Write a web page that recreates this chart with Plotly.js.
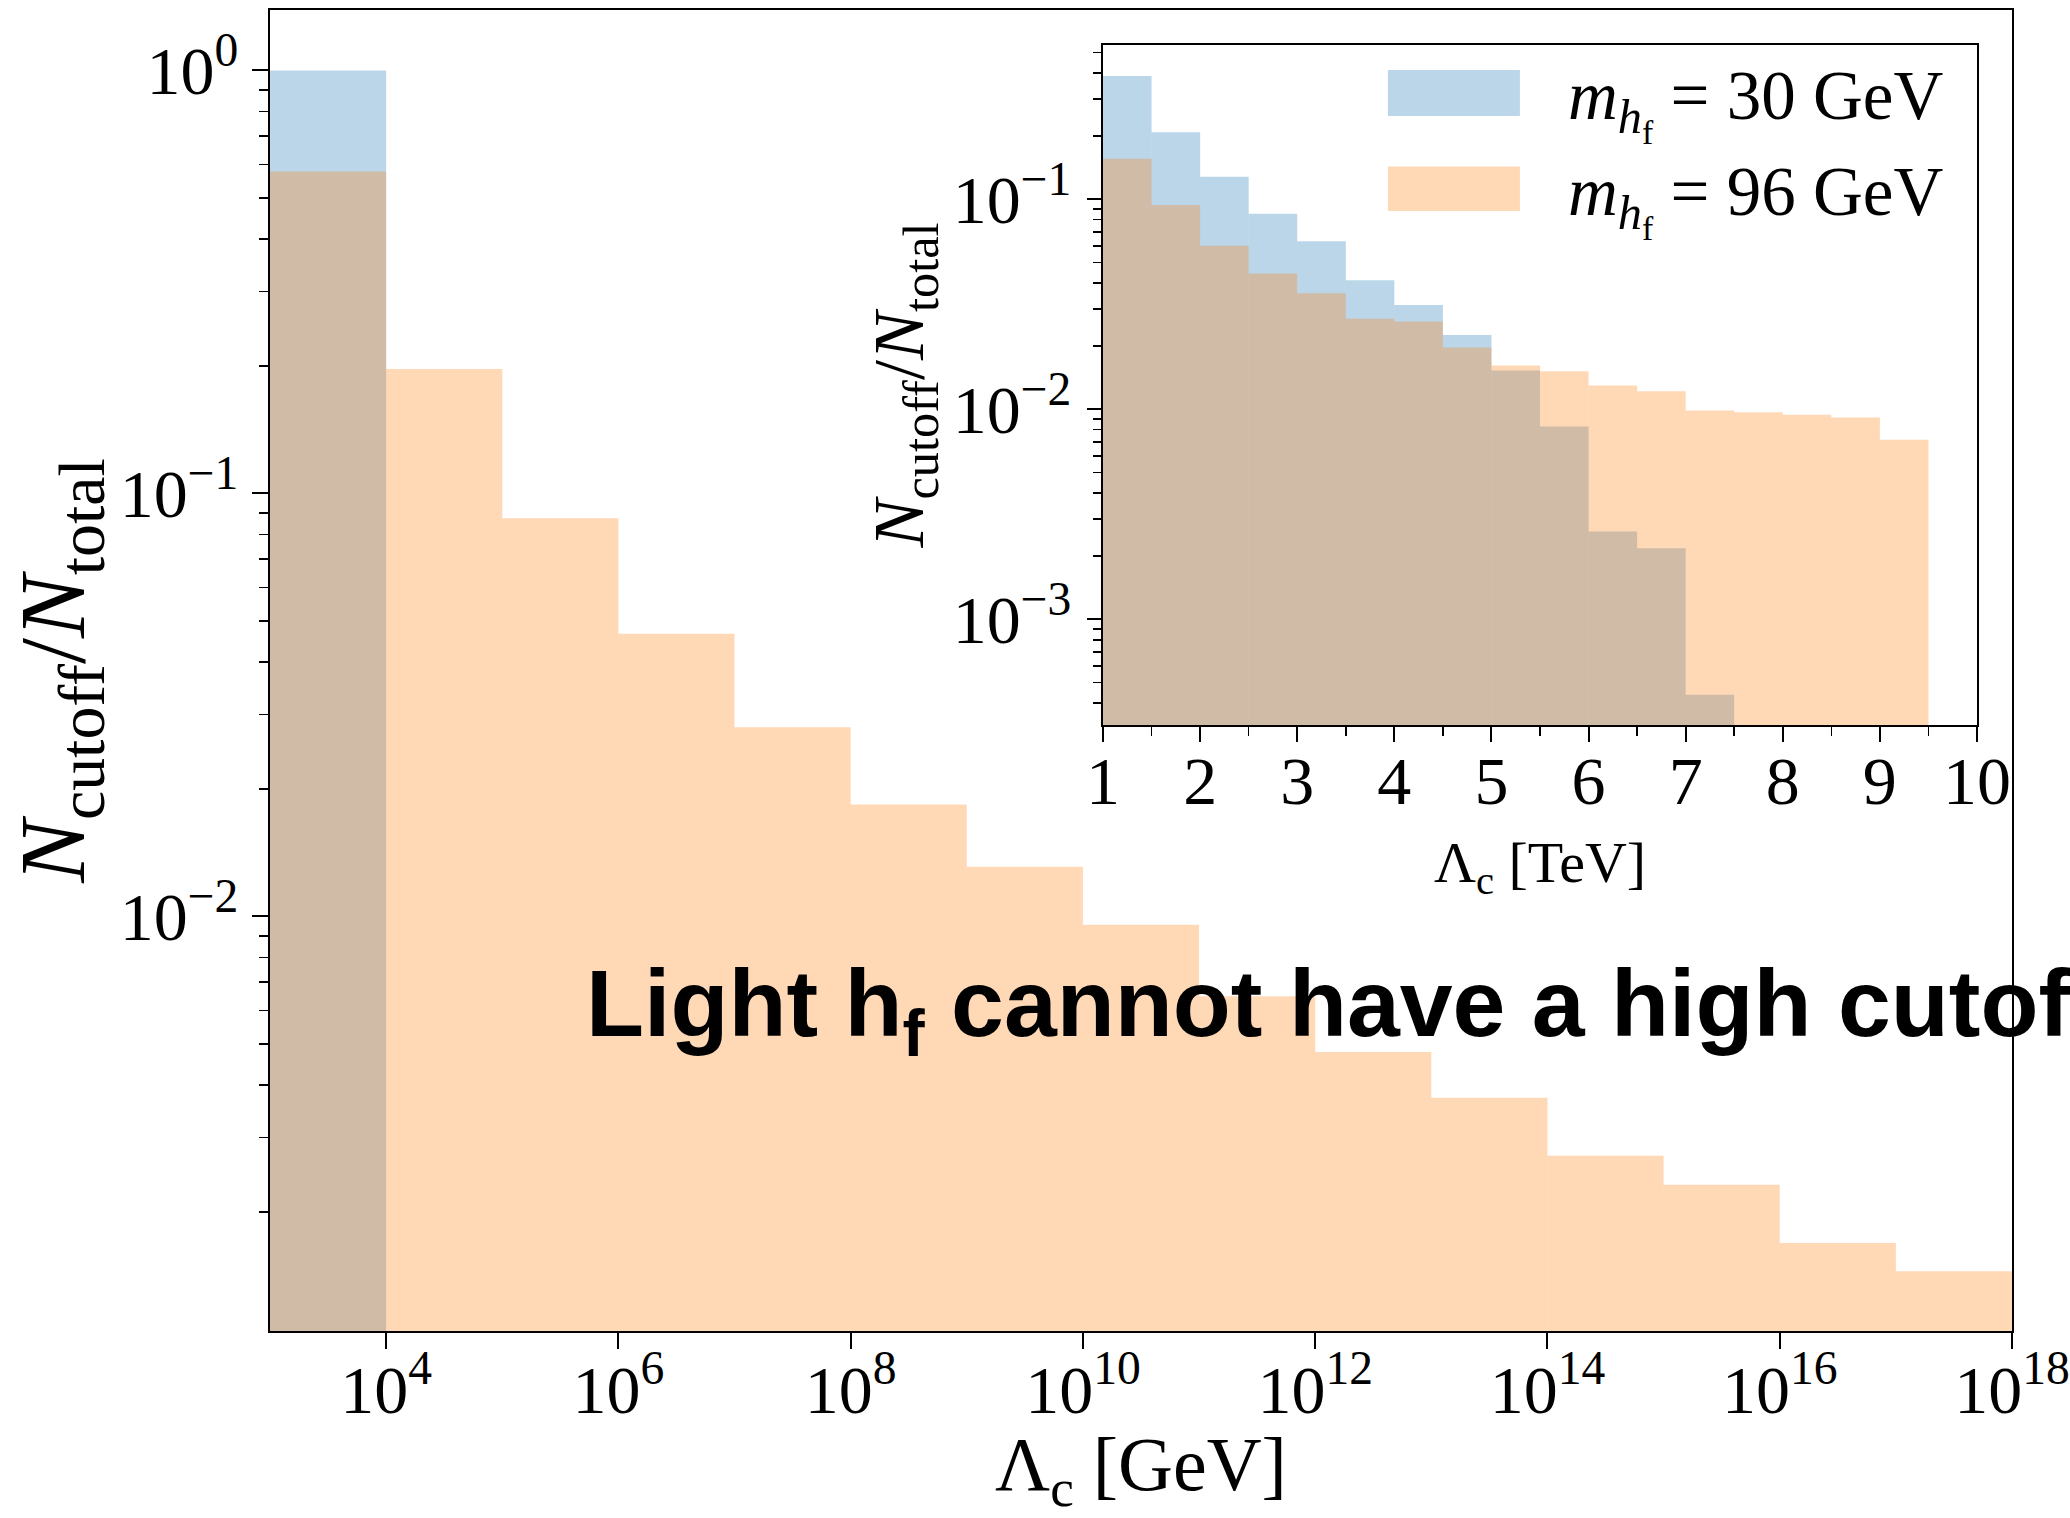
<!DOCTYPE html>
<html>
<head>
<meta charset="utf-8">
<script src="https://cdn.plot.ly/plotly-3.0.1.min.js"></script>
<style>html,body{margin:0;padding:0;background:#fff;}#chart{width:2070px;height:1518px;}</style>
</head>
<body>
<div id="chart"></div>
<script>
// ---- Data ----
// Main panel: one-decade bins of the cutoff scale in GeV
const mainBinEdges = [1e3, 1e4, 1e5, 1e6, 1e7, 1e8, 1e9, 1e10, 1e11, 1e12, 1e13, 1e14, 1e15, 1e16, 1e17, 1e18];
const mainBlue30 = [1.0, 0, 0, 0, 0, 0, 0, 0, 0, 0, 0, 0, 0, 0, 0];
const mainOrange96 = [0.577, 0.197, 0.0874, 0.0466, 0.0280, 0.0184, 0.0131, 0.00956, 0.00648, 0.00478, 0.00373, 0.00272, 0.00232, 0.00169, 0.00145];

// Inset: 0.5 TeV bins from 1 to 10 TeV
const insetBinEdges = [1, 1.5, 2, 2.5, 3, 3.5, 4, 4.5, 5, 5.5, 6, 6.5, 7, 7.5, 8, 8.5, 9, 9.5, 10];
const insetBlue30 = [0.387, 0.209, 0.128, 0.0855, 0.0632, 0.0412, 0.0314, 0.0226, 0.0153, 0.00828, 0.00262, 0.00218, 0.000438, 0, 0, 0, 0, 0];
const insetOrange96 = [0.156, 0.094, 0.0601, 0.0444, 0.0357, 0.0270, 0.0262, 0.0197, 0.0162, 0.0152, 0.0130, 0.0122, 0.00987, 0.00968, 0.00944, 0.00915, 0.00716, 0];

// Tick labels
const mainXTickVals = [1e4, 1e6, 1e8, 1e10, 1e12, 1e14, 1e16, 1e18];
const mainXTickText = ['10<sup>4</sup>', '10<sup>6</sup>', '10<sup>8</sup>', '10<sup>10</sup>', '10<sup>12</sup>', '10<sup>14</sup>', '10<sup>16</sup>', '10<sup>18</sup>'];
const mainYTickVals = [1, 0.1, 0.01];
const mainYTickText = ['10<sup>0</sup>', '10<sup>\u22121</sup>', '10<sup>\u22122</sup>'];
const insetYTickVals = [0.1, 0.01, 0.001];
const insetYTickText = ['10<sup>\u22121</sup>', '10<sup>\u22122</sup>', '10<sup>\u22123</sup>'];
const insetXTickVals = [1, 2, 3, 4, 5, 6, 7, 8, 9, 10];
const insetXTickText = ['1', '2', '3', '4', '5', '6', '7', '8', '9', '10'];

const seriesNames = ['m_hf = 30 GeV', 'm_hf = 96 GeV'];
const legendLabels = ['<i>m</i><sub><i>h</i><sub>f</sub></sub> = 30 GeV', '<i>m</i><sub><i>h</i><sub>f</sub></sub> = 96 GeV'];

// ---- Styling ----
const BLUE = 'rgba(31,119,180,0.3)';
const ORANGE = 'rgba(255,127,14,0.3)';
const SERIF = 'Liberation Serif, DejaVu Serif, serif';

function lefts(edges) { return edges.slice(0, -1); }
function widths(edges) { return edges.slice(1).map((e, i) => e - edges[i]); }
function minorLog(decades) {
  const out = [];
  decades.forEach(d => { for (let k = 2; k <= 9; k++) out.push(k * Math.pow(10, d)); });
  return out;
}

function histTrace(edges, vals, color, name, xa, ya) {
  return {
    type: 'bar', x: lefts(edges), y: vals, width: widths(edges), offset: 0,
    marker: {color: color, line: {width: 0}}, name: name,
    xaxis: xa, yaxis: ya, showlegend: false, hoverinfo: 'x+y'
  };
}

const traces = [
  histTrace(mainBinEdges, mainBlue30, BLUE, seriesNames[0], 'x', 'y'),
  histTrace(mainBinEdges, mainOrange96, ORANGE, seriesNames[1], 'x', 'y'),
  histTrace(insetBinEdges, insetBlue30, BLUE, seriesNames[0], 'x2', 'y2'),
  histTrace(insetBinEdges, insetOrange96, ORANGE, seriesNames[1], 'x2', 'y2')
];

const TICKSIZE = 68;
const axisCommon = {
  showline: true, linecolor: 'black', linewidth: 2, mirror: true,
  showgrid: false, zeroline: false, ticks: 'outside', tickcolor: 'black',
  tickwidth: 2, ticklen: 16, tickfont: {family: SERIF, size: TICKSIZE, color: 'black'}
};

const layout = {
  width: 2070, height: 1518,
  margin: {l: 270, r: 58, t: 10, b: 187},
  paper_bgcolor: 'white', plot_bgcolor: 'white',
  barmode: 'overlay', showlegend: false,
  xaxis: Object.assign({}, axisCommon, {
    type: 'log', range: [3, 18], domain: [0, 1], anchor: 'y',
    tickmode: 'array', tickvals: mainXTickVals, ticktext: mainXTickText,
    ticklabelstandoff: -18,
    title: {text: '\u039B<sub>c</sub> [GeV]', font: {family: SERIF, size: 76, color: 'black'}, standoff: 32}
  }),
  yaxis: Object.assign({}, axisCommon, {
    type: 'log', range: [-2.98, 0.143], domain: [0, 1], anchor: 'x',
    tickmode: 'array', tickvals: mainYTickVals, ticktext: mainYTickText,
    ticklabelstandoff: 0,
    minor: {tickvals: minorLog([-1, -2, -3]), ticks: 'outside', ticklen: 9, tickwidth: 1.5, tickcolor: 'black', showgrid: false},
    title: {text: '<i>N</i><sub>cutoff</sub>/<i>N</i><sub>total</sub>', font: {family: SERIF, size: 94, color: 'black'}, standoff: 4}
  }),
  xaxis2: Object.assign({}, axisCommon, {
    type: 'linear', range: [1, 10], domain: [0.4782, 0.9799], anchor: 'y2',
    tickmode: 'array', tickvals: insetXTickVals, ticktext: insetXTickText, ticklen: 15,
    ticklabelstandoff: -20,
    minor: {tickvals: [1.5, 2.5, 3.5, 4.5, 5.5, 6.5, 7.5, 8.5, 9.5], ticks: 'outside', ticklen: 9, tickwidth: 1.5, tickcolor: 'black', showgrid: false},
    title: {text: '\u039B<sub>c</sub> [TeV]', font: {family: SERIF, size: 58, color: 'black'}, standoff: 24}
  }),
  yaxis2: Object.assign({}, axisCommon, {
    type: 'log', range: [-3.503, -0.265], domain: [0.4587, 0.9735], anchor: 'x2',
    tickmode: 'array', tickvals: insetYTickVals, ticktext: insetYTickText, ticklen: 14,
    ticklabelstandoff: 2,
    minor: {tickvals: minorLog([-1, -2, -3, -4]), ticks: 'outside', ticklen: 8, tickwidth: 1.5, tickcolor: 'black', showgrid: false},
    title: {text: '<i>N</i><sub>cutoff</sub>/<i>N</i><sub>total</sub>', font: {family: SERIF, size: 72, color: 'black'}, standoff: 6}
  }),
  shapes: [
    {type: 'rect', xref: 'x2 domain', yref: 'y2 domain', x0: 0.326, x1: 0.477, y0: 0.8956, y1: 0.9632, fillcolor: BLUE, line: {width: 0}},
    {type: 'rect', xref: 'x2 domain', yref: 'y2 domain', x0: 0.326, x1: 0.477, y0: 0.7559, y1: 0.8213, fillcolor: ORANGE, line: {width: 0}}
  ],
  annotations: [
    {xref: 'x2 domain', yref: 'y2 domain', x: 0.53, y: 0.912, xanchor: 'left', yanchor: 'middle', showarrow: false,
     text: legendLabels[0], font: {family: SERIF, size: 69, color: 'black'}},
    {xref: 'x2 domain', yref: 'y2 domain', x: 0.53, y: 0.771, xanchor: 'left', yanchor: 'middle', showarrow: false,
     text: legendLabels[1], font: {family: SERIF, size: 69, color: 'black'}},
    {xref: 'paper', yref: 'paper', x: 0.1805, y: 0.243, xanchor: 'left', yanchor: 'middle', showarrow: false,
     text: '<b>Light h<sub>f</sub> cannot have a high cutoff</b>',
     font: {family: 'Liberation Sans, Arial, sans-serif', size: 95, color: 'black'}}
  ]
};

Plotly.newPlot('chart', traces, layout, {staticPlot: true, displayModeBar: false});
</script>
</body>
</html>
